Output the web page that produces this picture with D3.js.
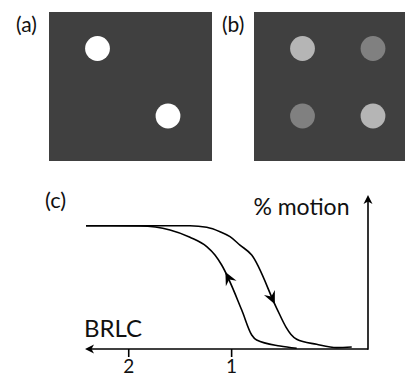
<!DOCTYPE html>
<html>
<head>
<meta charset="utf-8">
<script src="https://cdn.jsdelivr.net/npm/d3@7"></script>
<style>
  html, body { margin: 0; padding: 0; background: #fff; }
  svg { display: block; font-family: Lato, "Open Sans", sans-serif; }
</style>
</head>
<body>
<svg id="chart" width="405" height="379"></svg>
<script>
// ---- Stimulus frames: dots placed on a 2x2 grid with a grey level ----
const frameLabels = ["(a)", "(b)"];
const frameADots = [
  { col: 0, row: 0, grey: 255 },
  { col: 1, row: 1, grey: 255 }
];
const frameBDots = [
  { col: 0, row: 0, grey: 181 },
  { col: 1, row: 0, grey: 128 },
  { col: 0, row: 1, grey: 128 },
  { col: 1, row: 1, grey: 181 }
];

// ---- Panel (c): % motion against BRLC, two hysteresis branches ----
const plotLabel = "(c)";
const xTitle = "BRLC";
const yTitle = "% motion";
const brlcTicks = [2, 1];

// branch traversed with BRLC decreasing (outer curve, arrow pointing down)
const descendBrlc   = [2.41, 1.40, 1.237, 1.108, 1.011, 0.914, 0.800, 0.557, 0.467, 0.418, 0.363, 0.169, -0.026, -0.172];
const descendMotion = [100, 100, 98.7, 95.1, 91.1, 84.3, 76.2, 33.0, 17.8, 11.8, 7.9, 3.8, 1.1, 1.6];

// branch traversed with BRLC increasing (inner curve, arrow pointing up)
const ascendBrlc   = [2.41, 1.886, 1.594, 1.400, 1.237, 1.157, 1.092, 0.897, 0.800, 0.752, 0.525, 0.363];
const ascendMotion = [100, 99.7, 96.5, 90.6, 83.0, 76.2, 68.1, 31.6, 11.4, 7.3, 2.4, 0.6];

// direction markers sitting on each branch
const branchArrows = [
  { branch: "ascend",  brlc: 1.050, motion: 62.7, forward: false },
  { branch: "descend", brlc: 0.590, motion: 35.7, forward: true }
];

const svg = d3.select("#chart");

// ---- frames (a) and (b) ----
const frames = [
  { label: frameLabels[0], dots: frameADots, x0: 49,  x1: 212, labelX: 16 },
  { label: frameLabels[1], dots: frameBDots, x0: 254, x1: 405, labelX: 222 }
];
const frameTop = 12, frameBottom = 161;

frames.forEach(f => {
  const g = svg.append("g");
  g.append("rect")
    .attr("x", f.x0).attr("y", frameTop)
    .attr("width", f.x1 - f.x0).attr("height", frameBottom - frameTop)
    .attr("fill", "#404040");
  const cx = d3.scaleLinear().domain([0, 1]).range([f.x0 + 48.5, f.x0 + 119]);
  const cy = d3.scaleLinear().domain([0, 1]).range([frameTop + 36.5, frameTop + 104]);
  g.selectAll("circle").data(f.dots).join("circle")
    .attr("cx", d => cx(d.col))
    .attr("cy", d => cy(d.row))
    .attr("r", 12.4)
    .attr("fill", d => d3.rgb(d.grey, d.grey, d.grey));
  g.append("text")
    .attr("x", f.labelX).attr("y", 32)
    .attr("font-size", 21)
    .attr("fill", "#111")
    .text(f.label);
});

// ---- panel (c) ----
const x = d3.scaleLinear().domain([2.42, -0.33]).range([85, 368]);
const y = d3.scaleLinear().domain([0, 100]).range([349, 225.7]);
const yAxisTop = 125;

const axisG = svg.append("g");
// horizontal axis with arrow at the left end
axisG.append("line")
  .attr("x1", x(-0.33)).attr("x2", x(2.42) + 3)
  .attr("y1", y(0)).attr("y2", y(0))
  .attr("stroke", "#000").attr("stroke-width", 1.6);
// vertical axis with arrow at the top
axisG.append("line")
  .attr("x1", x(-0.33)).attr("x2", x(-0.33))
  .attr("y1", y(0) + 0.8).attr("y2", y(yAxisTop) + 3)
  .attr("stroke", "#000").attr("stroke-width", 1.6);

const axisHead = "M0,0 L-9,-4.5 L-6.5,0 L-9,4.5 Z";
axisG.append("path").attr("d", axisHead)
  .attr("transform", `translate(${x(2.42)},${y(0)}) rotate(180)`).attr("fill", "#000");
axisG.append("path").attr("d", axisHead)
  .attr("transform", `translate(${x(-0.33)},${y(yAxisTop)}) rotate(-90)`).attr("fill", "#000");

// ticks and labels along BRLC
const xAxis = d3.axisBottom(x).tickValues(brlcTicks).tickSize(8).tickPadding(3).tickFormat(d3.format("d"));
const xg = svg.append("g").attr("transform", `translate(0,${y(0)})`).call(xAxis);
xg.select(".domain").remove();
xg.selectAll(".tick line").attr("stroke", "#000").attr("stroke-width", 1.6);
xg.selectAll(".tick text")
  .attr("font-size", 19).attr("font-family", "Lato, 'Open Sans', sans-serif")
  .attr("fill", "#111").attr("dy", "0.71em");

// axis titles and panel label
svg.append("text").attr("x", 84).attr("y", 336.5)
  .attr("font-size", 24).attr("fill", "#111").text(xTitle);
svg.append("text").attr("x", 349.5).attr("y", 215)
  .attr("text-anchor", "end").attr("font-size", 23).attr("fill", "#111").text(yTitle);
svg.append("text").attr("x", 45).attr("y", 208)
  .attr("font-size", 22).attr("fill", "#111").text(plotLabel);

// hysteresis branches
const line = d3.line().x(d => x(d[0])).y(d => y(d[1])).curve(d3.curveMonotoneX);
const branches = {
  descend: d3.zip(descendBrlc, descendMotion),
  ascend: d3.zip(ascendBrlc, ascendMotion)
};
const paths = {};
Object.entries(branches).forEach(([key, pts]) => {
  paths[key] = svg.append("path")
    .attr("d", line(pts))
    .attr("fill", "none")
    .attr("stroke", "#000")
    .attr("stroke-width", 1.6)
    .attr("stroke-linejoin", "round");
});

// arrowheads placed on the branch, aligned with its tangent
const curveHead = "M0,0 L-13,-6 L-8.5,0 L-13,6 Z";
branchArrows.forEach(a => {
  const node = paths[a.branch].node();
  const total = node.getTotalLength();
  const tx = x(a.brlc), ty = y(a.motion);
  let best = 0, bestD = Infinity;
  for (let l = 0; l <= total; l += 0.5) {
    const p = node.getPointAtLength(l);
    const dd = (p.x - tx) ** 2 + (p.y - ty) ** 2;
    if (dd < bestD) { bestD = dd; best = l; }
  }
  const p = node.getPointAtLength(best);
  const p0 = node.getPointAtLength(Math.max(0, best - 3));
  const p1 = node.getPointAtLength(Math.min(total, best + 3));
  let ang = Math.atan2(p1.y - p0.y, p1.x - p0.x) * 180 / Math.PI;
  if (!a.forward) ang += 180;
  svg.append("path").attr("d", curveHead)
    .attr("transform", `translate(${p.x},${p.y}) rotate(${ang})`)
    .attr("fill", "#000");
});
</script>
</body>
</html>
